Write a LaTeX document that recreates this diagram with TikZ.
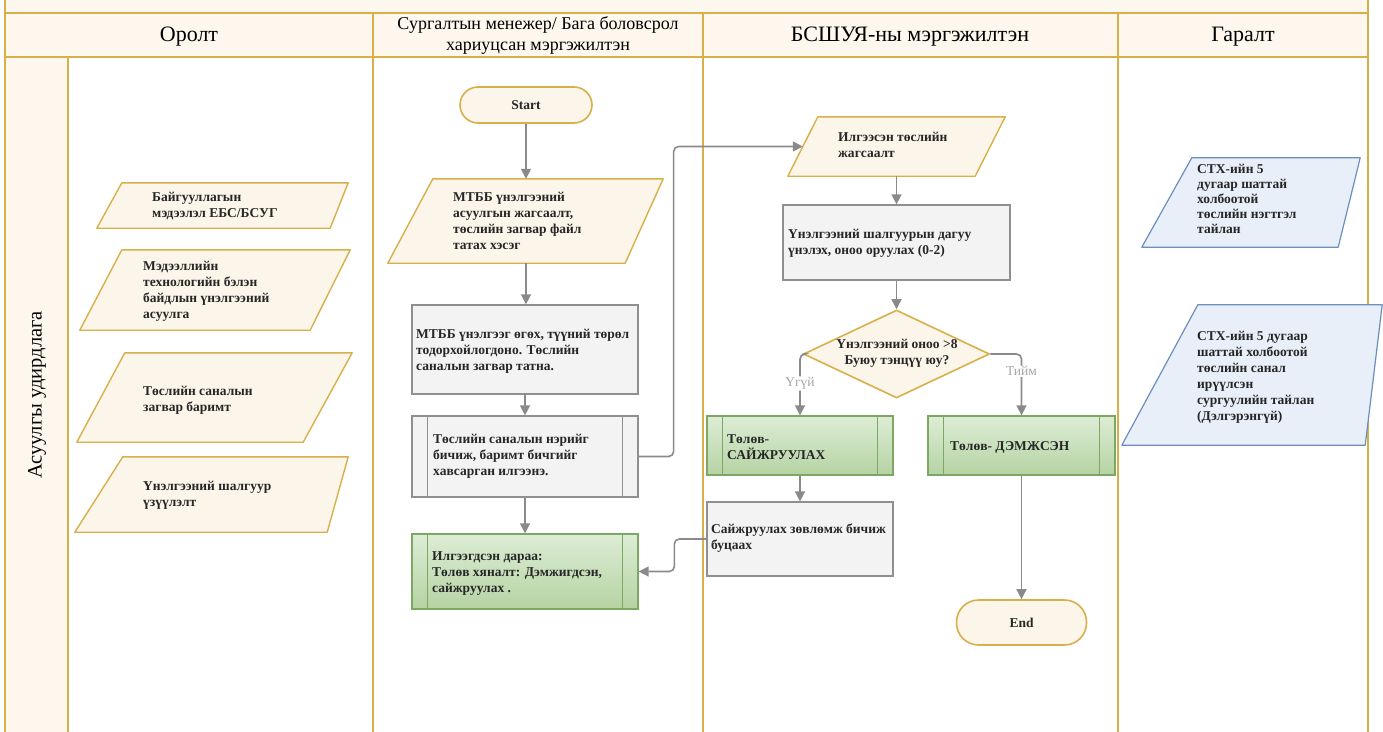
\documentclass[tikz,border=0pt]{standalone}
\usepackage{fontspec}
\setmainfont{Liberation Serif}
\usetikzlibrary{arrows.meta,shapes.geometric,fit,calc}
\definecolor{gold}{HTML}{D8B04A}
\definecolor{cream}{HTML}{FCF5EA}
\definecolor{hdr}{HTML}{FDF7EE}
\definecolor{gfill}{HTML}{F3F3F3}
\definecolor{gline}{HTML}{8F8F8F}
\definecolor{arrc}{HTML}{8A8A8A}
\definecolor{grtop}{HTML}{DDEDD5}
\definecolor{grbot}{HTML}{B5D3A3}
\definecolor{grline}{HTML}{7DA863}
\definecolor{bfill}{HTML}{E8EFF8}
\definecolor{bline}{HTML}{6C8EBF}
\definecolor{lblc}{HTML}{A6A6A6}
\definecolor{ink}{HTML}{262626}
\newcommand\tst{\rule{0pt}{11pt}}
\newcommand\paral[4]{\path[#4] (#1.south west) -- ([xshift=#2pt]#1.north west) -- (#1.north east) -- ([xshift=-#3pt]#1.south east) -- cycle;}
\newcommand\subbars[3]{\draw[#3] ([xshift=#2pt]#1.north west) -- ([xshift=#2pt]#1.south west);
  \draw[#3] ([xshift=-#2pt]#1.north east) -- ([xshift=-#2pt]#1.south east);}
\begin{document}
\begin{tikzpicture}[x=1pt,y=-1pt,
  lanel/.style={draw=gold,line width=1.6pt},
  box/.style={inner sep=0pt},
  yel/.style={draw=gold,fill=cream,line width=1.4pt,line join=round},
  blu/.style={draw=bline,fill=bfill,line width=1.2pt,line join=round},
  gbox/.style={inner sep=0pt,draw=gline,fill=gfill,line width=1.3pt},
  grbox/.style={inner sep=0pt,draw=grline,top color=grtop,bottom color=grbot,line width=1.3pt},
  term/.style={inner sep=0pt,draw=gold,fill=cream,line width=1.6pt,rounded corners=18pt},
  txt/.style={anchor=north west,inner sep=0pt,align=left,text=ink,font=\fontsize{13.5}{16}\selectfont\bfseries},
  txtc/.style={inner sep=0pt,align=center,text=ink,font=\fontsize{13.5}{16}\selectfont\bfseries},
  htxt/.style={inner sep=0pt,align=center,font=\fontsize{22}{24}\selectfont},
  arr/.style={draw=arrc,line width=1.6pt,-{Triangle[length=10pt,width=10pt]},rounded corners=5pt},
  lbl/.style={inner sep=1pt,fill=white,text=lblc,font=\fontsize{13.5}{15}\selectfont}]
\useasboundingbox (0,0) rectangle (1383,731);
% lanes
\fill[hdr] (5,-3) rectangle (1368,57);
\fill[hdr] (5,57) rectangle (68,734);
\draw[lanel] (5,13) -- (1368,13);
\draw[lanel] (5,57) -- (1368,57);
\draw[lanel] (5,-3) -- (5,734);
\draw[lanel] (1368,-3) -- (1368,734);
\draw[lanel] (373,13) -- (373,734);
\draw[lanel] (703,13) -- (703,734);
\draw[lanel] (1118,13) -- (1118,734);
\draw[lanel] (68,57) -- (68,734);
\node[htxt] (h1) at (189,37) {Оролт};
\node[htxt,font=\fontsize{18}{21}\selectfont] (h2) at (538,35) {Сургалтын менежер/ Бага боловсрол\\хариуцсан мэргэжилтэн};
\node[htxt] (h3) at (910,37) {БСШУЯ-ны мэргэжилтэн};
\node[htxt] (h4) at (1243,37) {Гаралт};
\node[htxt,rotate=90,font=\fontsize{20.5}{23}\selectfont] (lane) at (37,395) {Асуулгы удирдлага};
% inputs
\node[box,fit={(97,183)(348,228)}] (p1) {};
\paral{p1}{25}{18}{yel}
\node[txt] (tp1) at (152,190) {\tst Байгууллагын\\мэдээлэл ЕБС/БСУГ};
\node[box,fit={(80,250)(350,330)}] (p2) {};
\paral{p2}{42}{40}{yel}
\node[txt] (tp2) at (143,259) {\tst Мэдээллийн\\технологийн бэлэн\\байдлын үнэлгээний\\асуулга};
\node[box,fit={(77,353)(352,442)}] (p3) {};
\paral{p3}{48}{49}{yel}
\node[txt] (tp3) at (143,384) {\tst Төслийн саналын\\загвар баримт};
\node[box,fit={(75,457)(348,532)}] (p4) {};
\paral{p4}{48}{21}{yel}
\node[txt] (tp4) at (143,479) {\tst Үнэлгээний шалгуур\\үзүүлэлт};
% middle lane
\node[term,fit={(460,87)(592,123)}] (start) {};
\node[txtc] (tstart) at (start) {Start};
\node[box,fit={(388,179)(663,263)}] (mtbb) {};
\paral{mtbb}{45}{38}{yel}
\node[txt] (tmtbb) at (453,190) {\tst МТББ үнэлгээний\\асуулгын жагсаалт,\\төслийн загвар файл\\татах хэсэг};
\node[gbox,fit={(412,305)(638,394)}] (r1) {};
\node[txt] (tr1) at (416,327) {\tst МТББ үнэлгээг өгөх, түүний төрөл\\тодорхойлогдоно. Төслийн\\саналын загвар татна.};
\node[gbox,fit={(412,416)(638,497)}] (s1) {};
\subbars{s1}{16}{gline,line width=1.3pt}
\node[txt] (ts1) at (433,432) {\tst Төслийн саналын нэрийг\\бичиж, баримт бичгийг\\хавсарган илгээнэ.};
\node[grbox,fit={(412,534)(638,609)}] (g1) {};
\subbars{g1}{16}{grline,line width=1.3pt}
\node[txt] (tg1) at (432,549) {\tst Илгээгдсэн дараа:\\Төлөв хяналт: Дэмжигдсэн,\\сайжруулах .};
% ministry lane
\node[box,fit={(788,117)(1005,176)}] (ilg) {};
\paral{ilg}{30}{30}{yel}
\coordinate (ilgin) at ($(ilg.west)+(15,0)$);
\node[txt] (tilg) at (838,130) {\tst Илгээсэн төслийн\\жагсаалт};
\node[gbox,fit={(783,205)(1010,280)}] (r2) {};
\node[txt] (tr2) at (788,227) {\tst Үнэлгээний шалгуурын дагуу\\үнэлэх, оноо оруулах (0-2)};
\node[diamond,draw=gold,fill=cream,line width=1.6pt,inner sep=0pt,minimum width=186pt,minimum height=88pt] (dia) at (896.5,354) {};
\node[txtc] (tdia) at (897,353.5) {Үнэлгээний оноо >8\\Буюу тэнцүү юу?};
\node[grbox,fit={(707,416)(893,475)}] (sai) {};
\subbars{sai}{16}{grline,line width=1.3pt}
\node[txt] (tsai) at (727,432) {\tst Төлөв-\\САЙЖРУУЛАХ};
\node[grbox,fit={(928,416)(1115,475)}] (dem) {};
\subbars{dem}{16}{grline,line width=1.3pt}
\node[txt] (tdem) at (950,439) {\tst Төлөв- ДЭМЖСЭН};
\node[gbox,fit={(707,502)(893,576)}] (sov) {};
\node[txt] (tsov) at (711,522) {\tst Сайжруулах зөвлөмж бичиж\\буцаах};
\node[term,fit={(956.5,600)(1086.5,645)},rounded corners=22pt] (end) {};
\node[txtc] (tend) at (end) {End};
% outputs
\node[box,fit={(1142,158)(1360,247)}] (b1) {};
\paral{b1}{50}{22}{blu}
\node[txt,font=\fontsize{13.5}{15}\selectfont\bfseries] (tb1) at (1197,162) {\tst СТХ-ийн 5\\дугаар шаттай\\холбоотой\\төслийн нэгтгэл\\тайлан};
\node[box,fit={(1122,305)(1382,445)}] (b2) {};
\paral{b2}{76}{17}{blu}
\node[txt] (tb2) at (1197,329) {\tst СТХ-ийн 5 дугаар\\шаттай холбоотой\\төслийн санал\\ирүүлсэн\\сургуулийн тайлан\\(Дэлгэрэнгүй)};
% connectors
\draw[arr] (start) -- (start |- mtbb.north);
\draw[arr] (mtbb.south -| start) -- (r1.north -| start);
\draw[arr] (r1) -- (s1);
\draw[arr] (s1) -- (g1);
\draw[arr] (s1.east) -- ++(35,0) |- (ilgin);
\draw[arr] (ilg) -- (r2);
\draw[arr] (r2) -- (dia);
\draw[arr] (dia.west) -| node[lbl,pos=0.74] (no) {Үгүй} (sai.north);
\draw[arr] (dia.east) -| node[lbl,pos=0.64] (yes) {Тийм} (dem.north);
\draw[arr] (sai) -- (sov);
\draw[arr] (dem) -- (end);
\draw[arr] (sov.west) -- ++(-32,0) |- (g1.east);
\end{tikzpicture}
\end{document}
